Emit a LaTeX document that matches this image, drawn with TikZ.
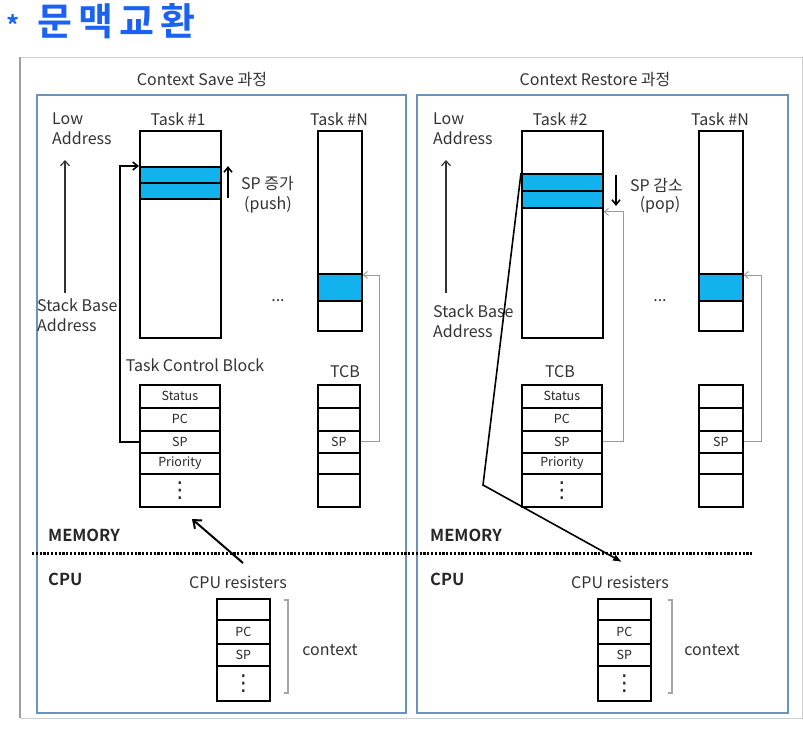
\documentclass[tikz,border=0pt]{standalone}
\usepackage{fontspec}
\setmainfont{Noto Sans CJK KR}[BoldFont={Noto Sans CJK KR Bold}]
\newfontfamily\titlefont{Noto Sans CJK KR Bold}[LetterSpace=16]
\newfontfamily\symfont{DejaVu Sans}
\usetikzlibrary{arrows.meta}
\definecolor{panelblue}{HTML}{6A93BC}
\definecolor{cellcyan}{HTML}{12B2EE}
\definecolor{titleblue}{HTML}{1B62F2}
\definecolor{framegray}{HTML}{CFCFCF}
\definecolor{linkgray}{HTML}{9A9A9A}
\newcommand\vdotcell{{\fontsize{22}{22}\symfont ⋮}}
\tikzset{
  cell/.style={draw=black, line width=1.8pt, inner sep=0pt, anchor=north west,
    font=\fontsize{12.5}{13}\selectfont, text=black!85},
  hot/.style={cell, fill=cellcyan},
  lbl/.style={font=\fontsize{16}{20}\selectfont, inner sep=0pt, text=black!80},
  bold/.style={font=\fontsize{16.5}{18}\selectfont\bfseries, inner sep=0pt, text=black!85},
  panel/.style={draw=panelblue, line width=1.5pt},
  blackarrow/.style={draw=black, line width=1.6pt, -{Straight Barb[length=5pt,width=8pt]}},
  grayarrow/.style={draw=linkgray, line width=0.9pt, -{Straight Barb[length=4pt,width=7pt]}},
  bigarrow/.style={draw=black, line width=2pt, -{Straight Barb[length=7pt,width=11pt]}},
  bracket/.style={draw=gray!70, line width=1.2pt}
}
\begin{document}
\begin{tikzpicture}[x=1pt,y=-1pt]
\useasboundingbox (0,0) rectangle (803,734);
\fill[white] (0,0) rectangle (803,734);

% title
\node[font=\fontsize{26}{28}\selectfont\bfseries, text=titleblue, inner sep=0pt] (star) at (13,25) {*};
\node[font=\fontsize{38}{40}\titlefont, text=titleblue, inner sep=0pt, anchor=west] (title) at (37,21) {문맥교환};

% outer frame
\draw[framegray, line width=1pt] (20,57) rectangle (802,718);
\draw[gray!75, line width=1.5pt] (20,57) -- (20,718);

% panels
\draw[panel] (37,95) rectangle (406,713);
\draw[panel] (417,95) rectangle (788,713);
\node[lbl] (savettl) at (202,80) {Context Save 과정};
\node[lbl] (restttl) at (595,80) {Context Restore 과정};

% dotted separator
\draw[line width=3pt, dash pattern=on 2.2pt off 1.6pt] (32,553) -- (753,553);

% ================= LEFT PANEL =================
\node[lbl, align=left, anchor=north west] (low1) at (52,113) {Low\\Address};
\node[lbl, align=left, anchor=north west] (base1) at (37,299) {Stack Base\\Address};
\coordinate (up1s) at (65,293);
\coordinate (up1e) at (65,160);
\draw[draw=black!80, line width=1.2pt, -{Straight Barb[length=5pt,width=9pt]}] (up1s) -- (up1e);

\node[lbl] (task1) at (178,119) {Task \#1};
\node[cell, minimum width=81pt, minimum height=207pt] (s1) at (139,130) {};
\node[hot, minimum width=81pt, minimum height=16pt] (s1a) at (139,166) {};
\node[hot, minimum width=81pt, minimum height=16pt] (s1b) at (139,182) {};
\coordinate (push1s) at (228,198);
\coordinate (push1e) at (228,166);
\draw[blackarrow] (push1s) -- (push1e);
\node[lbl, anchor=west] (spinc) at (241,183) {SP 증가};
\node[lbl] (push) at (268,205) {(push)};

\node[lbl] (taskN1) at (339,119) {Task \#N};
\node[cell, minimum width=44pt, minimum height=200pt] (sN1) at (317,130) {};
\node[hot, minimum width=44pt, minimum height=27pt] (sN1a) at (317,273) {};
\node[lbl] (dots1) at (278,301) {...};

\node[lbl] (tcbttl1) at (195,365) {Task Control Block};
\node[cell, minimum width=80pt, minimum height=23pt] (t1st) at (139,384) {Status};
\node[cell, minimum width=80pt, minimum height=23pt] (t1pc) at (139,407) {PC};
\node[cell, minimum width=80pt, minimum height=22pt] (t1sp) at (139,430) {SP};
\node[cell, minimum width=80pt, minimum height=21pt] (t1pr) at (139,452) {Priority};
\node[cell, minimum width=80pt, minimum height=33pt] (t1dt) at (139,473) {\vdotcell};

\node[lbl] (tcbN1ttl) at (345,372) {TCB};
\node[cell, minimum width=42pt, minimum height=23pt] (tN1r1) at (317,384) {};
\node[cell, minimum width=42pt, minimum height=23pt] (tN1r2) at (317,407) {};
\node[cell, minimum width=42pt, minimum height=22pt] (tN1sp) at (317,430) {SP};
\node[cell, minimum width=42pt, minimum height=21pt] (tN1r4) at (317,452) {};
\node[cell, minimum width=42pt, minimum height=33pt] (tN1r5) at (317,473) {};

\draw[blackarrow] (t1sp.west) -- ++(-19,0) |- (s1a.north west);
\draw[grayarrow] (tN1sp.east) -- ++(19,0) |- ([yshift=-2pt]sN1a.north east);

\node[bold, anchor=west] (mem1) at (48,535) {MEMORY};
\node[bold, anchor=west] (cpu1) at (48,579) {CPU};
\node[lbl] (reg1ttl) at (238,582) {CPU resisters};
\coordinate (sv1s) at (243,563);
\coordinate (sv1e) at (192,519);
\draw[bigarrow] (sv1s) -- (sv1e);

\node[cell, minimum width=53pt, minimum height=21pt] (r1a) at (216,598) {};
\node[cell, minimum width=53pt, minimum height=24pt] (r1pc) at (216,619) {PC};
\node[cell, minimum width=53pt, minimum height=22pt] (r1sp) at (216,643) {SP};
\node[cell, minimum width=53pt, minimum height=35pt] (r1dt) at (216,665) {\vdotcell};
\draw[bracket] (284,600) -- (288,600) -- (288,693) -- (284,693);
\node[lbl] (ctx1) at (330,650) {context};

% ================= RIGHT PANEL =================
\node[lbl, align=left, anchor=north west] (low2) at (433,113) {Low\\Address};
\node[lbl, align=left, anchor=north west] (base2) at (433,305) {Stack Base\\Address};
\coordinate (up2s) at (446,293);
\coordinate (up2e) at (446,160);
\draw[draw=black!80, line width=1.2pt, -{Straight Barb[length=5pt,width=9pt]}] (up2s) -- (up2e);

\node[lbl] (task2) at (560,119) {Task \#2};
\node[cell, minimum width=81pt, minimum height=207pt] (s2) at (521,130) {};
\node[hot, minimum width=81pt, minimum height=17pt] (s2a) at (521,173) {};
\node[hot, minimum width=81pt, minimum height=17pt] (s2b) at (521,190) {};
\coordinate (pop2s) at (616,175);
\coordinate (pop2e) at (616,206);
\draw[blackarrow] (pop2s) -- (pop2e);
\node[lbl, anchor=west] (spdec) at (630,185) {SP 감소};
\node[lbl] (pop) at (660,205) {(pop)};

\node[lbl] (taskN2) at (720,119) {Task \#N};
\node[cell, minimum width=44pt, minimum height=200pt] (sN2) at (698,130) {};
\node[hot, minimum width=44pt, minimum height=27pt] (sN2a) at (698,273) {};
\node[lbl] (dots2) at (660,301) {...};

\node[lbl] (tcbttl2) at (560,372) {TCB};
\node[cell, minimum width=80pt, minimum height=23pt] (t2st) at (521,384) {Status};
\node[cell, minimum width=80pt, minimum height=23pt] (t2pc) at (521,407) {PC};
\node[cell, minimum width=80pt, minimum height=22pt] (t2sp) at (521,430) {SP};
\node[cell, minimum width=80pt, minimum height=21pt] (t2pr) at (521,452) {Priority};
\node[cell, minimum width=80pt, minimum height=33pt] (t2dt) at (521,473) {\vdotcell};

\node[cell, minimum width=44pt, minimum height=23pt] (tN2r1) at (698,384) {};
\node[cell, minimum width=44pt, minimum height=23pt] (tN2r2) at (698,407) {};
\node[cell, minimum width=44pt, minimum height=22pt] (tN2sp) at (698,430) {SP};
\node[cell, minimum width=44pt, minimum height=21pt] (tN2r4) at (698,452) {};
\node[cell, minimum width=44pt, minimum height=33pt] (tN2r5) at (698,473) {};

\draw[grayarrow] (t2sp.east) -- ++(21,0) |- ([yshift=-3pt]s2b.south east);
\draw[grayarrow] (tN2sp.east) -- ++(18,0) |- ([yshift=-2pt]sN2a.north east);

\node[bold, anchor=west] (mem2) at (430,535) {MEMORY};
\node[bold, anchor=west] (cpu2) at (430,579) {CPU};
\node[lbl] (reg2ttl) at (620,582) {CPU resisters};
\coordinate (rs2bend) at (483,485);
\coordinate (rs2end) at (622,562);
\draw[draw=black, line width=1.6pt, -{Latex[length=9pt,width=7pt]}] (s2a.north west) -- (rs2bend) -- (rs2end);

\node[cell, minimum width=53pt, minimum height=21pt] (r2a) at (597,598) {};
\node[cell, minimum width=53pt, minimum height=24pt] (r2pc) at (597,619) {PC};
\node[cell, minimum width=53pt, minimum height=22pt] (r2sp) at (597,643) {SP};
\node[cell, minimum width=53pt, minimum height=35pt] (r2dt) at (597,665) {\vdotcell};
\draw[bracket] (668,600) -- (672,600) -- (672,693) -- (668,693);
\node[lbl] (ctx2) at (712,650) {context};
\end{tikzpicture}
\end{document}
